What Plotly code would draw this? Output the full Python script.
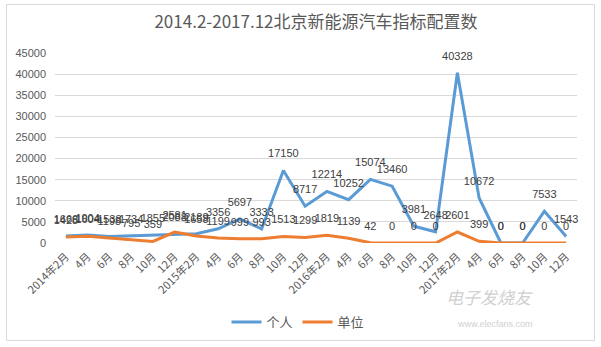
import plotly.graph_objects as go

months = ["2014年2月", "4月", "6月", "8月", "10月", "12月",
          "2015年2月", "4月", "6月", "8月", "10月", "12月",
          "2016年2月", "4月", "6月", "8月", "10月", "12月",
          "2017年2月", "4月", "6月", "8月", "10月", "12月"]
personal = [1666, 1904, 1538, 1734, 1855, 2088, 2189, 3356, 5697, 3333, 17150, 8717,
            12214, 10252, 15074, 13460, 3981, 2648, 40328, 10672, 0, 0, 7533, 1543]
unit = [1428, 1604, 1198, 795, 359, 2581, 1658, 1199, 999, 993, 1513, 1299,
        1819, 1139, 42, 0, 0, 0, 2601, 399, 0, 0, 0, 0]
series_names = ["个人", "单位"]
y_ticks = [0, 5000, 10000, 15000, 20000, 25000, 30000, 35000, 40000, 45000]

W, H = 601, 347
L, R, T, B = 55, 24, 53, 104
pw, ph = W - L - R, H - T - B

def px_x(x):
    return (x - L) / pw

def px_y(y):
    return (H - B - y) / ph

xs = list(range(len(months)))
font_lbl = dict(family="Liberation Sans, Arial", size=11, color="#404040")
ghost = dict(size=15, color="rgba(0,0,0,0)")

fig = go.Figure()
fig.add_trace(go.Scatter(
    x=xs, y=personal, name=series_names[0], mode="lines+markers+text",
    line=dict(color="#5B9BD5", width=3), marker=ghost,
    text=[str(v) for v in personal], textposition="top center",
    textfont=font_lbl, cliponaxis=False))
fig.add_trace(go.Scatter(
    x=xs, y=unit, name=series_names[1], mode="lines+markers+text",
    line=dict(color="#ED7D31", width=3), marker=ghost,
    text=[str(v) for v in unit], textposition="top center",
    textfont=font_lbl, cliponaxis=False))

fig.update_layout(
    width=W, height=H,
    margin=dict(l=L, r=R, t=T, b=B, autoexpand=False),
    paper_bgcolor="white", plot_bgcolor="white",
    title=dict(text="2014.2-2017.12北京新能源汽车指标配置数",
               font=dict(family="Noto Sans CJK SC", size=17, color="#595959"),
               x=0.5, xref="paper", xanchor="center",
               y=1 - 22 / H, yanchor="middle"),
    showlegend=True,
    legend=dict(orientation="h", x=px_x(298), xanchor="center",
                y=px_y(322), yanchor="middle",
                font=dict(family="Noto Sans CJK SC", size=13, color="#595959"),
                itemwidth=30, bgcolor="rgba(0,0,0,0)"),
    xaxis=dict(range=[-0.5, 23.5], tickmode="array", tickvals=xs, ticktext=months,
               tickangle=-45, showgrid=False, zeroline=False, showline=False,
               ticks="", ticklabelstandoff=4,
               tickfont=dict(family="Noto Sans CJK SC", size=11, color="#595959"),
               fixedrange=True),
    yaxis=dict(range=[0, 45000], tickmode="array", tickvals=y_ticks,
               ticktext=[str(v) for v in y_ticks],
               showgrid=True, gridcolor="#D9D9D9", gridwidth=1, zeroline=False,
               showline=False, ticks="", ticklabelstandoff=8,
               tickfont=dict(family="Liberation Sans, Arial", size=11, color="#595959"),
               fixedrange=True),
)

# chart border
fig.add_shape(type="rect", xref="paper", yref="paper",
              x0=px_x(6.5), x1=px_x(594.5), y0=px_y(340.5), y1=px_y(4.5),
              line=dict(color="#D9D9D9", width=1), layer="below")

# watermark
fig.add_annotation(text="<i>电子发烧友</i>", xref="paper", yref="paper",
                   x=px_x(535), y=px_y(311), showarrow=False,
                   font=dict(family="Noto Sans CJK SC", size=17, color="#D0D0D0"))
fig.add_annotation(text="www.elecfans.com", xref="paper", yref="paper",
                   x=px_x(535), y=px_y(331), showarrow=False,
                   font=dict(family="Liberation Sans", size=9, color="#D0D0D0"))

fig.write_html("out.html")
